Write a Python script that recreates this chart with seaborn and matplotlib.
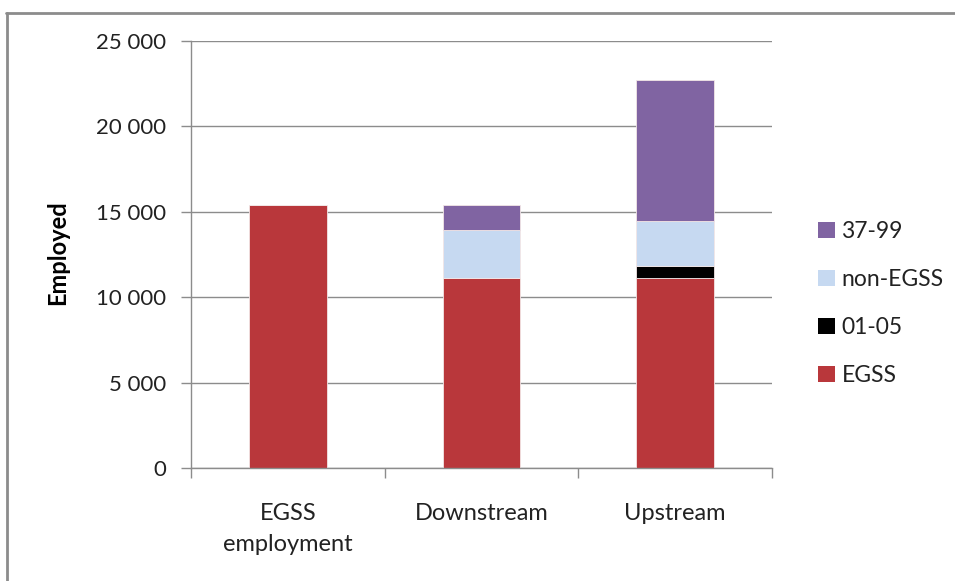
import matplotlib
matplotlib.use("Agg")
import matplotlib.pyplot as plt
from matplotlib.patches import Patch
from matplotlib.ticker import FuncFormatter, FixedLocator
from matplotlib.lines import Line2D
import seaborn as sns
import pandas as pd

# Employment by segment, stacked by component
categories = ["EGSS\nemployment", "Downstream", "Upstream"]
egss = [15400, 11150, 11150]
nace_01_05 = [0, 0, 680]
non_egss = [0, 2770, 2610]
nace_37_99 = [0, 1490, 8270]

series_names = ["EGSS", "01-05", "non-EGSS", "37-99"]
series_values = [egss, nace_01_05, non_egss, nace_37_99]
series_colors = ["#B9373B", "#000000", "#C6D9F1", "#8064A2"]

sns.set_theme(style="white")
plt.rcParams["font.family"] = ["Lato", "DejaVu Sans"]

fig = plt.figure(figsize=(9.55, 5.81), dpi=100)
ax = fig.add_axes([191 / 955, 1 - 468 / 581, (772 - 191) / 955, (468 - 41) / 581])

grid_color = "#8C8C8C"
ax.set_axisbelow(True)
ax.yaxis.grid(True, color=grid_color, linewidth=1.0)

bottom = [0.0] * len(categories)
for name, vals, col in zip(series_names, series_values, series_colors):
    df = pd.DataFrame({"category": categories, "value": vals})
    sns.barplot(data=df, x="category", y="value", color=col, width=0.4,
                bottom=bottom, ax=ax, saturation=1.0, linewidth=0.6,
                edgecolor="#F2E6E6", errorbar=None)
    bottom = [b + v for b, v in zip(bottom, vals)]

ax.set_xlim(-0.5, 2.5)
ax.set_ylim(0, 25000)
ax.set_yticks(range(0, 25001, 5000))
ax.yaxis.set_major_formatter(FuncFormatter(lambda v, p: f"{int(v):,}".replace(",", " ")))

ax.set_xlabel("")
ax.set_ylabel("")
for side in ["top", "right"]:
    ax.spines[side].set_visible(False)
for side in ["left", "bottom"]:
    ax.spines[side].set_color(grid_color)
    ax.spines[side].set_linewidth(1.0)

ax.tick_params(axis="y", which="major", left=True, length=7, width=1.0,
               color=grid_color, labelsize=16, pad=11, labelcolor="#222222")
ax.tick_params(axis="x", which="major", bottom=False, length=0, labelsize=17,
               pad=25, labelcolor="#222222")
ax.xaxis.set_minor_locator(FixedLocator([-0.5, 0.5, 1.5, 2.5]))
ax.tick_params(axis="x", which="minor", bottom=True, length=7, width=1.0,
               color=grid_color)
for lbl in ax.get_xticklabels():
    lbl.set_linespacing(1.6)
    lbl.set_verticalalignment("top")

fig.text(58 / 955, 1 - 253 / 581, "Employed", rotation=90, ha="center",
         va="center", fontsize=17, fontweight="bold", color="#000000")

handles = [Patch(facecolor=c, edgecolor="none") for c in series_colors[::-1]]
fig.legend(handles, series_names[::-1], loc="upper left",
           bbox_to_anchor=(807 / 955, 1 - 210 / 581), frameon=False,
           fontsize=16.5, handlelength=0.7, handleheight=0.7,
           handletextpad=0.3, labelspacing=1.17, borderpad=0, labelcolor="#222222")

# chart frame (top and left edges)
fig.add_artist(Line2D([6 / 955, 1.0], [1 - 13 / 581, 1 - 13 / 581],
                      transform=fig.transFigure, color="#8C8C8C", linewidth=2))
fig.add_artist(Line2D([7 / 955, 7 / 955], [0.0, 1 - 13 / 581],
                      transform=fig.transFigure, color="#8C8C8C", linewidth=2))

fig.savefig("out.png", dpi=100, facecolor="white")
